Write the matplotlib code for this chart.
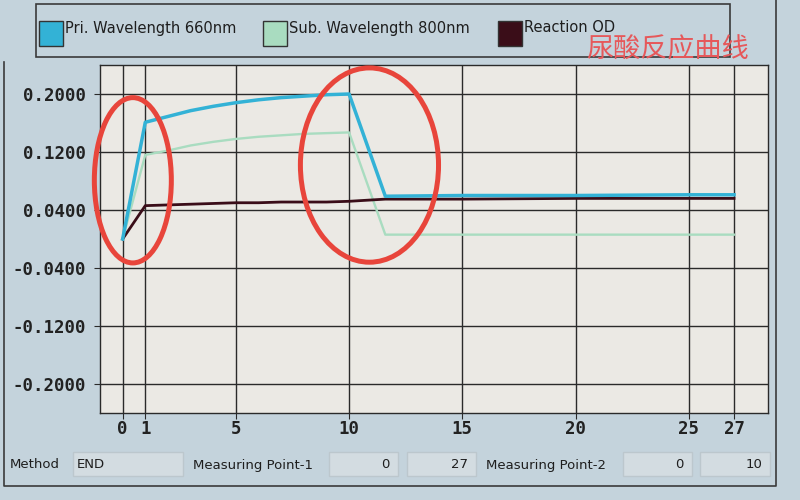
import matplotlib
matplotlib.use("Agg")
import matplotlib.pyplot as plt
from matplotlib.patches import Rectangle, Ellipse
from matplotlib.lines import Line2D

# measuring points and absorbance readings
x_pts = [0, 1, 2, 3, 4, 5, 6, 7, 8, 9, 10, 11.6, 15, 20, 25, 27]
pri = [0.000, 0.161, 0.169, 0.177, 0.183, 0.188, 0.192, 0.195, 0.197, 0.199, 0.200,
       0.059, 0.060, 0.060, 0.061, 0.061]
sub = [0.000, 0.116, 0.122, 0.129, 0.134, 0.138, 0.141, 0.143, 0.145, 0.146, 0.147,
       0.006, 0.006, 0.006, 0.006, 0.006]
od = [0.000, 0.046, 0.047, 0.048, 0.049, 0.050, 0.050, 0.051, 0.051, 0.051, 0.052,
      0.055, 0.055, 0.056, 0.056, 0.056]

series_names = ["Pri. Wavelength 660nm", "Sub. Wavelength 800nm", "Reaction OD"]
series_colors = ["#33b2d6", "#a9dcc0", "#3a0d18"]

x_ticks = [0, 1, 5, 10, 15, 20, 25, 27]
y_ticks = [-0.2, -0.12, -0.04, 0.04, 0.12, 0.2]

W, H = 800, 500
def fx(x): return x / W
def fy(y): return 1 - y / H

fig = plt.figure(figsize=(8, 5), dpi=100)
fig.patch.set_facecolor("#c4d3dc")

ax = fig.add_axes([fx(100), fy(413), fx(768) - fx(100), fy(65) - fy(413)])
ax.set_facecolor("#ebe9e4")
ax.set_xlim(-1.0, 28.5)
ax.set_ylim(-0.24, 0.24)

ax.plot(x_pts, sub, color=series_colors[1], lw=1.7, zorder=3)
ax.plot(x_pts, od, color=series_colors[2], lw=2.0, zorder=4)
ax.plot(x_pts, pri, color=series_colors[0], lw=2.5, zorder=5)

ax.set_xticks(x_ticks)
ax.set_xticklabels([str(t) for t in x_ticks])
ax.set_yticks(y_ticks)
ax.set_yticklabels(["%.4f" % t for t in y_ticks])
ax.grid(True, color="#2a2a2a", lw=1.0)
ax.set_axisbelow(True)
for s in ax.spines.values():
    s.set_color("#2a2a2a")
    s.set_linewidth(1.0)
ax.tick_params(axis="x", length=4, color="#2a2a2a", pad=1)
ax.tick_params(axis="y", length=4, color="#2a2a2a", pad=6)
for lab in ax.get_xticklabels() + ax.get_yticklabels():
    lab.set_fontfamily("DejaVu Sans Mono")
    lab.set_fontweight("bold")
    lab.set_fontsize(12.5)
    lab.set_color("#222222")

# red hand-drawn ellipses
ax.add_patch(Ellipse((0.45, 0.081), 3.4, 0.228, fill=False, ec="#e8453b", lw=3.6,
                     clip_on=False, zorder=6))
ax.add_patch(Ellipse((10.9, 0.102), 6.1, 0.268, fill=False, ec="#e8453b", lw=3.6,
                     clip_on=False, zorder=6))

# legend box
fig.patches.append(Rectangle((fx(36), fy(57)), fx(730) - fx(36), fy(4) - fy(57),
                             transform=fig.transFigure, fill=False, ec="#3a3a3a", lw=1.2))
leg_x = [39, 263, 498]
for lx, name, col in zip(leg_x, series_names, series_colors):
    fig.patches.append(Rectangle((fx(lx), fy(46)), fx(24), fy(21) - fy(46),
                                 transform=fig.transFigure, fc=col, ec="#333333", lw=1.0))
    fig.text(fx(lx + 26), fy(28), name, fontsize=10.5, color="#1e1e1e", va="center",
             family="DejaVu Sans")

fig.text(fx(586), fy(50), "尿酸反应曲线", fontsize=19.5, color="#e6585a", va="center",
         family=["Noto Sans CJK SC", "DejaVu Sans"])

# outer frame
fig.lines.append(Line2D([fx(4), fx(4), fx(776), fx(776)], [fy(62), fy(486), fy(486), fy(0)],
                        transform=fig.transFigure, color="#3a3a3a", lw=1.2))

# bottom status fields
def field(x0, x1, txt, align="right"):
    fig.patches.append(Rectangle((fx(x0), fy(476)), fx(x1 - x0), fy(452) - fy(476),
                                 transform=fig.transFigure, fc="#d3dce1", ec="#bcc7cd", lw=1.0))
    if align == "right":
        fig.text(fx(x1 - 8), fy(465), txt, fontsize=9.5, ha="right", va="center", color="#1e1e1e")
    else:
        fig.text(fx(x0 + 4), fy(465), txt, fontsize=9.5, ha="left", va="center", color="#1e1e1e")

fig.text(fx(10), fy(465), "Method", fontsize=9.5, va="center", color="#1e1e1e")
field(73, 183, "END", align="left")
fig.text(fx(193), fy(466), "Measuring Point-1", fontsize=9.5, va="center", color="#1e1e1e")
field(329, 398, "0")
field(407, 476, "27")
fig.text(fx(486), fy(466), "Measuring Point-2", fontsize=9.5, va="center", color="#1e1e1e")
field(623, 692, "0")
field(700, 770, "10")

fig.savefig("out.png", dpi=100, facecolor=fig.get_facecolor())
